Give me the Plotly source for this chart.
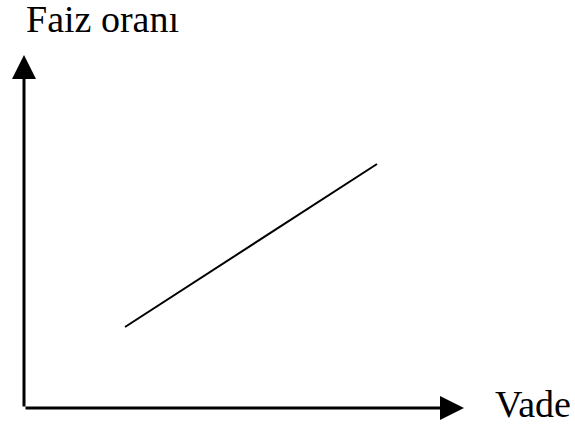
import plotly.graph_objects as go

# Data (schematic yield curve: interest rate rising with maturity)
vade = [101, 353]          # maturity (x)
faiz = [81, 244]           # interest rate (y)
x_label = "Vade"
y_label = "Faiz oranı"

fig = go.Figure()
fig.add_trace(go.Scatter(x=vade, y=faiz, mode="lines",
                         line=dict(color="black", width=2), hoverinfo="skip"))

# axes as arrows
fig.add_annotation(x=440, y=0, ax=0, ay=0, xref="x", yref="y", axref="x", ayref="y",
                   showarrow=True, arrowhead=2, arrowsize=1.6, arrowwidth=3,
                   arrowcolor="black", text="")
fig.add_annotation(x=0, y=353, ax=0, ay=0, xref="x", yref="y", axref="x", ayref="y",
                   showarrow=True, arrowhead=2, arrowsize=1.6, arrowwidth=3,
                   arrowcolor="black", text="")

fig.add_annotation(x=469, y=4, xref="x", yref="y", text=x_label, showarrow=False,
                   xanchor="left", yanchor="middle",
                   font=dict(family="Liberation Serif", size=38, color="black"))
fig.add_annotation(x=0, y=389, xref="x", yref="y", text=y_label, showarrow=False,
                   xanchor="left", yanchor="middle",
                   font=dict(family="Liberation Serif", size=38, color="black"))

fig.update_layout(
    width=575, height=428, margin=dict(l=0, r=0, t=0, b=0),
    paper_bgcolor="white", plot_bgcolor="white", showlegend=False,
    xaxis=dict(range=[-24, 551], visible=False, fixedrange=True),
    yaxis=dict(range=[-20, 408], visible=False, fixedrange=True),
)
fig.write_html("out.html", config={"displayModeBar": False},
               post_script="document.body.style.margin='0';")
